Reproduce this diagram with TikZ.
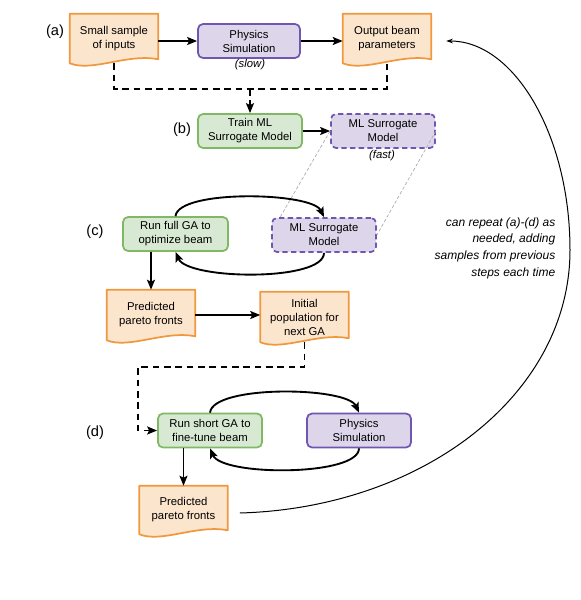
\documentclass[tikz,border=0pt]{standalone}
\usepackage{fontspec}
\setmainfont{Liberation Sans}
\usetikzlibrary{arrows.meta,calc,backgrounds}
\definecolor{docfill}{RGB}{252,229,205}
\definecolor{docline}{RGB}{240,152,62}
\definecolor{gfill}{RGB}{215,232,211}
\definecolor{gline}{RGB}{128,184,100}
\definecolor{pfill}{RGB}{221,213,234}
\definecolor{pline}{RGB}{112,86,176}
\definecolor{guidegray}{RGB}{170,170,170}
\tikzset{
 box/.style={rectangle, rounded corners=3.75pt, line width=1.3pt, align=center, inner sep=0pt, minimum height=25.5pt, minimum width=78pt},
 gbox/.style={box, draw=gline, fill=gfill},
 pbox/.style={box, draw=pline, fill=pfill},
 pdbox/.style={pbox, dash pattern=on 4pt off 2.5pt},
 doc/.style={rectangle, draw=none, align=center, inner sep=0pt, minimum width=66pt},
 lab/.style={font=\fontsize{11}{13}\selectfont},
 note/.style={font=\fontsize{8.5}{10.5}\selectfont\itshape},
 arr/.style={line width=1.4pt, -{Stealth[length=7.5pt,width=6pt,inset=1.5pt]}},
 dsh/.style={line width=1.4pt, dash pattern=on 5pt off 3.5pt},
 guide/.style={draw=guidegray, line width=0.5pt, dash pattern=on 2.5pt off 1.5pt},
 docshp/.style={draw=docline, fill=docfill, line width=1.3pt, line join=round},
}
\newcommand\docshape[1]{%
 \path[docshp] let \p1=(#1.south west), \p2=(#1.north east) in
 (\x1,\y2) -- (\x2,\y2) -- (\x2,{\y1+3pt})
 .. controls ({0.35*\x1+0.65*\x2},{\y1+7.5pt}) and ({0.75*\x1+0.25*\x2},{\y1-6.75pt}) .. (\x1,\y1) -- cycle;}
\begin{document}
\begin{tikzpicture}[x=0.75pt,y=-0.75pt, font=\fontsize{8.5}{10.5}\selectfont]
\useasboundingbox (0,0) rectangle (581,600);

% (a)
\node[lab] (la) at (55,32) {(a)};
\node[doc, minimum height=36.75pt] (d1) at (114,38.5) {Small sample\\of inputs};
\node[pbox, minimum width=76.5pt] (p1) at (249,41) {Physics\\Simulation};
\node[note] (slow) at (250,65) {(slow)};
\node[doc, minimum height=36.75pt] (out) at (387,38.5) {Output beam\\parameters};

% (b)
\node[lab] (lb) at (182,130) {(b)};
\node[gbox] (tr) at (250,131) {Train ML\\Surrogate Model};
\node[pdbox] (sb) at (383,131) {ML Surrogate\\Model};
\node[note] (fast) at (382,156) {(fast)};

% (c)
\node[lab] (lc) at (95,232) {(c)};
\node[gbox, minimum width=78.75pt] (gc) at (175.5,234) {Run full GA to\\optimize beam};
\node[pdbox] (sc) at (324,235) {ML Surrogate\\Model};
\node[doc, minimum height=37.5pt] (pc) at (151,315) {Predicted\\pareto fronts};
\node[doc, minimum height=37.5pt] (pi) at (304.5,317) {Initial\\population for\\next GA};

% (d)
\node[lab] (ld) at (95,433) {(d)};
\node[gbox] (gs) at (210,430.5) {Run short GA to\\fine-tune beam};
\node[pbox] (ps) at (359,430.5) {Physics\\Simulation};
\node[doc, minimum height=36pt] (pd) at (183.5,510) {Predicted\\pareto fronts};

% note
\node[note, font=\fontsize{9}{12.5}\selectfont\itshape, align=right, anchor=east] (rep) at (560,248)
 {can repeat (a)-(d) as\\needed, adding\\samples from previous\\steps each time};

\begin{scope}[on background layer]
 \docshape{d1}
 \docshape{out}
 \docshape{pc}
 \docshape{pi}
 \docshape{pd}
\end{scope}

% connectors (a)
\draw[arr] (d1.east |- p1.west) -- (p1.west);
\draw[arr] (p1.east) -- (out.west |- p1.east);
\coordinate (c2) at (250,89);
\draw[dsh] (d1.south) |- (c2) -| (out.south);
\draw[dsh, -{Stealth[length=7.5pt,width=6pt,inset=1.5pt]}] (c2) -- (tr.north);

% (b)
\draw[arr] (tr.east) -- (sb.west);
\draw[guide] (sb.west) -- ($(sc.north west)+(9,0)$);
\draw[guide] (sb.east) -- (sc.east);

% (c)
\draw[arr] (gc.north) .. controls +(3,-27) and +(-12,-25) .. (sc.north);
\draw[arr] (sc.south) .. controls +(0,29) and +(12,28) .. (gc.south);
\draw[arr] (pc.north |- gc.south) -- (pc.north);
\draw[arr] (pc.east) -- (pc.east -| pi.west);
\coordinate (c1) at (138,367);
\draw[dsh] (pi.south) |- (c1) |- ($(gs.west)+(-12,0)$);
\draw[arr] ($(gs.west)+(-12,0)$) -- (gs.west);

% (d)
\draw[arr] (gs.north) .. controls +(3,-28) and +(-12,-26) .. (ps.north);
\draw[arr] (ps.south) .. controls +(0,28) and +(12,28) .. (gs.south);
\draw[arr] (pd.north |- gs.south) -- (pd.north);

% repeat curve
\coordinate (ca) at ($(pd.east)+(12,3)$);
\coordinate (cb) at ($(out.east)+(15,2.5)$);
\draw[line width=0.75pt, -{Stealth[length=5pt,width=3.5pt]}] (ca) .. controls (422,508) and (570,395) .. (570,250) .. controls (570,135) and (514,41) .. (cb);
\end{tikzpicture}
\end{document}
